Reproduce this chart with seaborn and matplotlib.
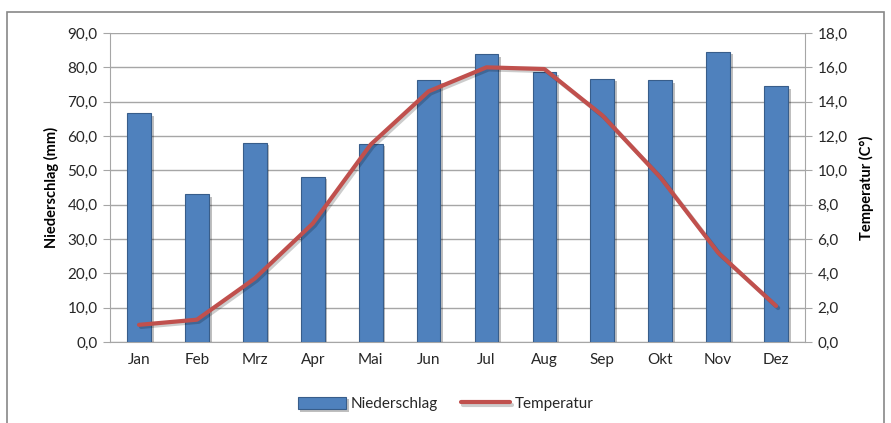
import numpy as np
import pandas as pd
import seaborn as sns
import matplotlib.pyplot as plt
import matplotlib.patheffects as pe
from matplotlib.patches import Rectangle
from matplotlib.ticker import FuncFormatter, MultipleLocator

# Monthly climate data
months = ["Jan", "Feb", "Mrz", "Apr", "Mai", "Jun", "Jul", "Aug", "Sep", "Okt", "Nov", "Dez"]
niederschlag = [66.6, 43.1, 58.1, 48.2, 57.8, 76.2, 83.8, 78.7, 76.7, 76.2, 84.6, 74.5]
temperatur = [1.0, 1.3, 3.7, 6.9, 11.5, 14.6, 16.0, 15.9, 13.2, 9.6, 5.2, 2.1]

df = pd.DataFrame({"Monat": months, "Niederschlag": niederschlag, "Temperatur": temperatur})

sns.set_style("white")
plt.rcParams['font.family'] = ['Lato', 'DejaVu Sans']

bar_color = "#4F81BD"
line_color = "#C0504D"
grid_color = "#A6A6A6"
text_color = "#262626"

fig = plt.figure(figsize=(8.91, 4.23), dpi=100)
ax = fig.add_axes([0.1235, 0.1915, 0.78, 0.7305])

# outer chart frame
fig.patches.append(Rectangle((7 / 891, -0.05), 877 / 891, 1 - 12 / 423 + 0.05,
                             transform=fig.transFigure, fill=False,
                             edgecolor="#888888", linewidth=1.2))

sns.barplot(data=df, x="Monat", y="Niederschlag", ax=ax, color=bar_color,
            width=0.41, saturation=1, edgecolor="#385D8A", linewidth=0.8,
            label="Niederschlag", zorder=3)
if ax.get_legend() is not None:
    ax.get_legend().remove()
for bar in ax.patches:
    bar.set_path_effects([pe.SimplePatchShadow(offset=(2, -2), alpha=0.25, shadow_rgbFace="black"),
                          pe.Normal()])

ax.set_ylim(0, 90)
ax.set_xlim(-0.5, 11.5)
ax.yaxis.set_major_locator(MultipleLocator(10))
ax.yaxis.set_major_formatter(FuncFormatter(lambda v, p: f"{v:.1f}".replace(".", ",")))
ax.grid(axis="y", color=grid_color, linewidth=1.0, zorder=0)
ax.set_axisbelow(True)
ax.set_xlabel("")
ax.set_ylabel("Niederschlag (mm)", fontsize=10.5, fontweight="bold", color="black", labelpad=6)

ax2 = ax.twinx()
sns.lineplot(data=df, x="Monat", y="Temperatur", ax=ax2, color=line_color,
             linewidth=3, sort=False, label="Temperatur", legend=False)
ax2.lines[0].set_path_effects([pe.SimpleLineShadow(offset=(1.5, -1.5), alpha=0.2), pe.Normal()])
ax2.set_ylim(0, 18)
ax2.set_xlim(-0.5, 11.5)
ax2.yaxis.set_major_locator(MultipleLocator(2))
ax2.yaxis.set_major_formatter(FuncFormatter(lambda v, p: f"{v:.1f}".replace(".", ",")))
ax2.set_ylabel("Temperatur (C°)", fontsize=10.5, fontweight="bold", color="black", labelpad=8)

for a in (ax, ax2):
    for s in a.spines.values():
        s.set_visible(False)
    a.tick_params(labelsize=11, colors=text_color, length=0, pad=8)

ax.spines["left"].set_visible(True)
ax.spines["left"].set_color(grid_color)
ax.spines["bottom"].set_visible(True)
ax.spines["bottom"].set_color(grid_color)
ax2.spines["right"].set_visible(True)
ax2.spines["right"].set_color(grid_color)
ax.tick_params(axis="y", length=5, color=grid_color, direction="out", pad=4)
ax2.tick_params(axis="y", length=5, color=grid_color, direction="out", pad=4)

# x tick marks between categories
ax.set_xticks(np.arange(len(months)))
ax.set_xticklabels(months)
ax.set_xticks(np.arange(-0.5, len(months), 1), minor=True)
ax.tick_params(axis="x", which="minor", length=5, color=grid_color, direction="out")
ax.tick_params(axis="x", which="major", length=0, pad=8)

h1, l1 = ax.get_legend_handles_labels()
h2, l2 = ax2.get_legend_handles_labels()
leg = fig.legend(h1[:1] + h2, l1[:1] + l2, loc="center", bbox_to_anchor=(0.5, 0.045), ncol=2,
                 frameon=False, fontsize=11, handlelength=3.2, handleheight=0.9,
                 columnspacing=1.5, handletextpad=0.3)
for t in leg.get_texts():
    t.set_color(text_color)

fig.savefig("out.png", dpi=100)
